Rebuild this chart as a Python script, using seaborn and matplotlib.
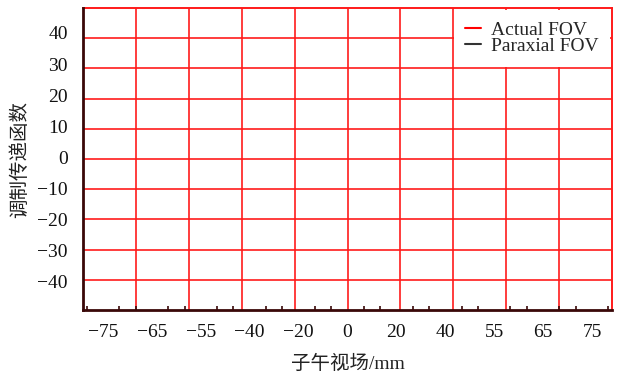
import matplotlib
matplotlib.use("Agg")
import matplotlib.pyplot as plt
import seaborn as sns

# -----------------------------
# Datos
# -----------------------------
x_tick_labels = ["−75", "−65", "−55", "−40", "−20", "0", "20", "40", "55", "65", "75"]
y_ticks = [40, 30, 20, 10, 0, -10, -20, -30, -40]

# las curvas no aparecen dentro del área visible, solo en la leyenda
actual_fov_x, actual_fov_y = [], []
paraxial_fov_x, paraxial_fov_y = [], []

RED = "#ff1a1a"
DARK = "#3a0808"
FS = 14

sns.set_theme(style="white")
plt.rcParams["font.family"] = ["Liberation Serif", "Noto Sans CJK SC"]
plt.rcParams["axes.unicode_minus"] = True

fig = plt.figure(figsize=(6.22, 3.73), dpi=100)
rect = [83 / 622, (373 - 310) / 373, 529 / 622, 302 / 373]

# cuadrícula: 10 divisiones iguales, independiente de las marcas
gax = fig.add_axes(rect)
gax.set_xlim(0, 10)
gax.set_ylim(0, 10)
gax.set_xticks(range(1, 10))
gax.set_yticks(range(1, 10))
gax.grid(True, color=RED, lw=1.4, alpha=0.85)
gax.tick_params(length=0, labelbottom=False, labelleft=False)
for s in gax.spines.values():
    s.set_visible(False)

ax = fig.add_axes(rect)
ax.set_zorder(gax.get_zorder() + 1)
ax.patch.set_visible(False)

sns.lineplot(x=actual_fov_x, y=actual_fov_y, ax=ax)
ax.plot(actual_fov_x, actual_fov_y, color="red", lw=1.5, label="Actual FOV")
ax.plot(paraxial_fov_x, paraxial_fov_y, color="#333333", lw=1.5, label="Paraxial FOV")

positions = list(range(len(x_tick_labels)))
ax.set_xlim(-0.41, len(x_tick_labels) - 1 + 0.41)
ax.set_ylim(-49, 48)
ax.set_xticks(positions)
ax.set_xticklabels(x_tick_labels)
ax.set_xticks([p + d for p in [-1] + positions for d in (1 / 3, 2 / 3)
               if -0.41 < p + d < len(x_tick_labels) - 1 + 0.41], minor=True)
ax.set_yticks(y_ticks)

ax.tick_params(axis="both", which="both", direction="in", colors=DARK,
               labelcolor="#111111", labelsize=FS)
ax.tick_params(axis="x", which="major", length=3, width=1.2, pad=10)
ax.tick_params(axis="x", which="minor", length=3, width=1.2, bottom=True)
ax.tick_params(axis="y", which="major", length=3, width=1.2, pad=11)

for side in ("top", "right"):
    ax.spines[side].set_color(RED)
    ax.spines[side].set_linewidth(1.4)
for side in ("left", "bottom"):
    ax.spines[side].set_color(DARK)
    ax.spines[side].set_linewidth(2)
ax.spines["left"].set_zorder(5)
ax.spines["bottom"].set_zorder(5)

ax.set_xlabel("子午视场/mm", fontsize=FS, color="#222222", labelpad=10)
ax.set_ylabel("调制传递函数", fontsize=FS, color="#222222", labelpad=6)

leg = ax.legend(loc="upper right", fontsize=FS, handlelength=0.8, handletextpad=0.5,
                labelspacing=-0.1, borderpad=0.6, borderaxespad=0.1,
                frameon=True, fancybox=False, framealpha=1)
leg.get_frame().set_edgecolor("none")
leg.get_frame().set_facecolor("white")

fig.savefig("out.png", dpi=100)
